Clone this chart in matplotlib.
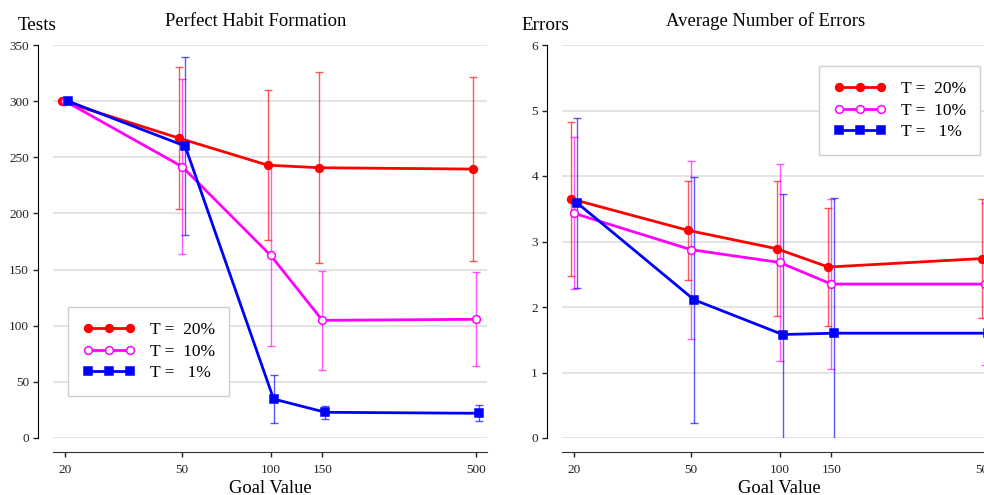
import matplotlib
matplotlib.use("Agg")
import matplotlib.pyplot as plt
from matplotlib.ticker import FixedLocator, FixedFormatter, NullLocator

# Goal values on the x axis
goal_values = [20, 50, 100, 150, 500]
goal_labels = ["20", "50", "100", "150", "500"]
series_labels = ["T =  20%", "T =  10%", "T =   1%"]

# Tests needed for perfect habit formation (mean, error half-width)
tests_t20 = [300, 267, 243, 240.7, 239.5]
tests_t20_err = [0, 63, 67, 85, 82]
tests_t10 = [300, 241.7, 162.7, 104.8, 105.7]
tests_t10_err = [0, 78, 80.5, 44.3, 42]
tests_t1 = [300, 260, 34.7, 22.9, 22.0]
tests_t1_err = [0, 79, 21, 6, 7]

# Average number of errors (mean, error half-width)
errors_t20 = [3.65, 3.17, 2.89, 2.61, 2.74]
errors_t20_err = [1.18, 0.76, 1.03, 0.90, 0.91]
errors_t10 = [3.43, 2.875, 2.68, 2.35, 2.35]
errors_t10_err = [1.16, 1.36, 1.50, 1.30, 1.24]
errors_t1 = [3.59, 2.11, 1.58, 1.60, 1.60]
errors_t1_err = [1.30, 1.88, 2.15, 2.06, 2.00]

tests_yticks = [0, 50, 100, 150, 200, 250, 300, 350]
errors_yticks = [0, 1, 2, 3, 4, 5, 6]

plt.rcParams["font.family"] = ["Liberation Serif", "DejaVu Serif"]

colors = ["#ff0000", "#ff00ff", "#0000ff"]
markers = ["o", "o", "s"]
faces = ["#ff0000", "#ffffff", "#0000ff"]
dodge = [-0.0102, 0.0, 0.0102]   # small horizontal shift (decades) per series

W, H = 984, 495
fig = plt.figure(figsize=(W / 100, H / 100), dpi=100)

ax_w = 434 / W
ax_b = 1 - 438 / H
ax_h = (438 - 45) / H
ax1 = fig.add_axes([53 / W, ax_b, ax_w, ax_h])
ax2 = fig.add_axes([562 / W, ax_b, ax_w, ax_h])


def draw_panel(ax, means, errs, yticks, ylim):
    handles = []
    for k, (m, e) in enumerate(zip(means, errs)):
        xs = [g * 10 ** dodge[k] for g in goal_values]
        ax.errorbar(xs, m, yerr=e, fmt="none", ecolor=colors[k], elinewidth=1.0,
                    capsize=3.0, capthick=1.0, alpha=0.65, zorder=2 + k)
        h, = ax.plot(xs, m, color=colors[k], lw=2.0, marker=markers[k],
                     ms=5.6 if markers[k] == "o" else 5.4, mfc=faces[k],
                     mec=colors[k], mew=1.1, zorder=5 + k)
        handles.append(h)
    ax.set_xscale("log")
    ax.set_xlim(18.19, 544.5)
    ax.xaxis.set_major_locator(FixedLocator(goal_values))
    ax.xaxis.set_major_formatter(FixedFormatter(goal_labels))
    ax.xaxis.set_minor_locator(NullLocator())
    ax.set_ylim(*ylim)
    ax.set_yticks(yticks)
    ax.yaxis.grid(True, color="#dedede", lw=1.2)
    ax.set_axisbelow(True)
    for s in ("top", "right"):
        ax.spines[s].set_visible(False)
    ax.spines["left"].set_position(("outward", 10.8))
    ax.spines["left"].set_bounds(ylim[0], ylim[1])
    ax.spines["bottom"].set_position(("outward", 10.0))
    ax.spines["bottom"].set_color("#333333")
    ax.tick_params(axis="both", labelsize=9.5, length=3.5, width=1.0,
                   colors="#222222", pad=3)
    ax.tick_params(axis="x", pad=5.5)
    ax.set_xlabel("Goal Value", fontsize=13.3, labelpad=2.5)
    return handles


h1 = draw_panel(ax1, [tests_t20, tests_t10, tests_t1],
                [tests_t20_err, tests_t10_err, tests_t1_err],
                tests_yticks, (0, 350))
h2 = draw_panel(ax2, [errors_t20, errors_t10, errors_t1],
                [errors_t20_err, errors_t10_err, errors_t1_err],
                errors_yticks, (0, 6))

fig.text(256 / W, 1 - 21 / H, "Perfect Habit Formation", fontsize=13.4,
         ha="center", va="center")
fig.text(766 / W, 1 - 21 / H, "Average Number of Errors", fontsize=13.4,
         ha="center", va="center")
fig.text(37 / W, 1 - 25 / H, "Tests", fontsize=13.8, ha="center", va="center")
fig.text(545 / W, 1 - 25 / H, "Errors", fontsize=13.8, ha="center", va="center")

leg_kw = dict(loc="upper left", bbox_transform=fig.transFigure, borderaxespad=0,
              numpoints=3, handlelength=3.0, handletextpad=0.85, labelspacing=0.32,
              borderpad=0.85, fancybox=False, framealpha=1, edgecolor="#d0d0d0",
              prop={"size": 12.5})
lg1 = ax1.legend(h1, series_labels, bbox_to_anchor=(68 / W, 1 - 307 / H), **leg_kw)
lg2 = ax2.legend(h2, series_labels, bbox_to_anchor=(819 / W, 1 - 66 / H), **leg_kw)
for lg in (lg1, lg2):
    lg.get_frame().set_linewidth(1.0)

fig.savefig("out.png", dpi=100)
